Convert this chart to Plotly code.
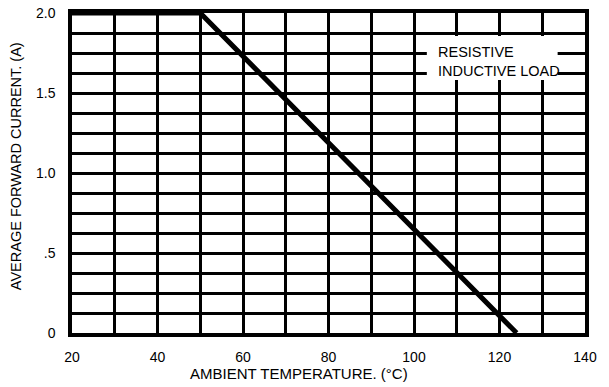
import plotly.graph_objects as go

# Derating curve data
temperature = [20, 50, 124]
current = [2.0, 2.0, 0.0]

x_tickvals = [20, 40, 60, 80, 100, 120, 140]
x_ticktext = ["20", "40", "60", "80", "100", "120", "140"]
y_tickvals = [0, 0.5, 1.0, 1.5, 2.0]
y_ticktext = ["0", ".5", "1.0", "1.5", "2.0"]

label_text = "RESISTIVE<br>INDUCTIVE LOAD"

FONT = "Liberation Sans, Arial, sans-serif"

L, R, T, B = 72, 24, 5, 54
W, H = 609, 387
PW, PH = W - L - R, H - T - B

fig = go.Figure()
fig.add_trace(go.Scatter(x=temperature, y=current, mode="lines",
                         line=dict(color="black", width=5),
                         showlegend=False, hoverinfo="skip"))

grid_w = 3
fig.update_xaxes(range=[20, 140], tickvals=x_tickvals, ticktext=x_ticktext,
                 showgrid=True, gridcolor="black", gridwidth=grid_w,
                 minor=dict(dtick=10, tick0=20, showgrid=True, gridcolor="black", gridwidth=grid_w),
                 showline=True, linecolor="black", linewidth=3.5, mirror=True,
                 zeroline=False, ticks="", ticklabelstandoff=8,
                 tickfont=dict(family=FONT, size=14, color="black"))
fig.update_yaxes(range=[0, 2.0], tickvals=y_tickvals, ticktext=y_ticktext,
                 showgrid=True, gridcolor="black", gridwidth=grid_w,
                 minor=dict(dtick=0.125, tick0=0, showgrid=True, gridcolor="black", gridwidth=grid_w),
                 showline=True, linecolor="black", linewidth=3.5, mirror=True,
                 zeroline=False, ticks="", ticklabelstandoff=10,
                 tickfont=dict(family=FONT, size=14, color="black"))

# white box behind the label
fig.add_shape(type="rect", xref="x", yref="y", x0=103.0, x1=133.6, y0=1.582, y1=1.856,
              fillcolor="white", line=dict(width=0), layer="above")
fig.add_annotation(x=105.2, y=1.70, xref="x", yref="y", text=label_text,
                   showarrow=False, xanchor="left", yanchor="middle", align="left",
                   font=dict(family=FONT, size=14.5, color="black"))

fig.add_annotation(text="AMBIENT TEMPERATURE. (°C)", xref="paper", yref="paper",
                   x=(299 - L) / PW, y=-(375 - (H - B)) / PH, showarrow=False,
                   xanchor="center", yanchor="middle",
                   font=dict(family=FONT, size=15, color="black"))
fig.add_annotation(text="AVERAGE FORWARD CURRENT. (A)", xref="paper", yref="paper",
                   x=-(L - 16) / PW, y=((H - B) - 162) / PH, showarrow=False, textangle=-90,
                   xanchor="center", yanchor="middle",
                   font=dict(family=FONT, size=14.5, color="black"))

fig.update_layout(width=W, height=H,
                  margin=dict(l=L, r=R, t=T, b=B),
                  paper_bgcolor="white", plot_bgcolor="white")

fig.write_html("out.html", config={"displayModeBar": False},
               post_script="document.body.style.margin='0';document.body.style.overflow='hidden';")
